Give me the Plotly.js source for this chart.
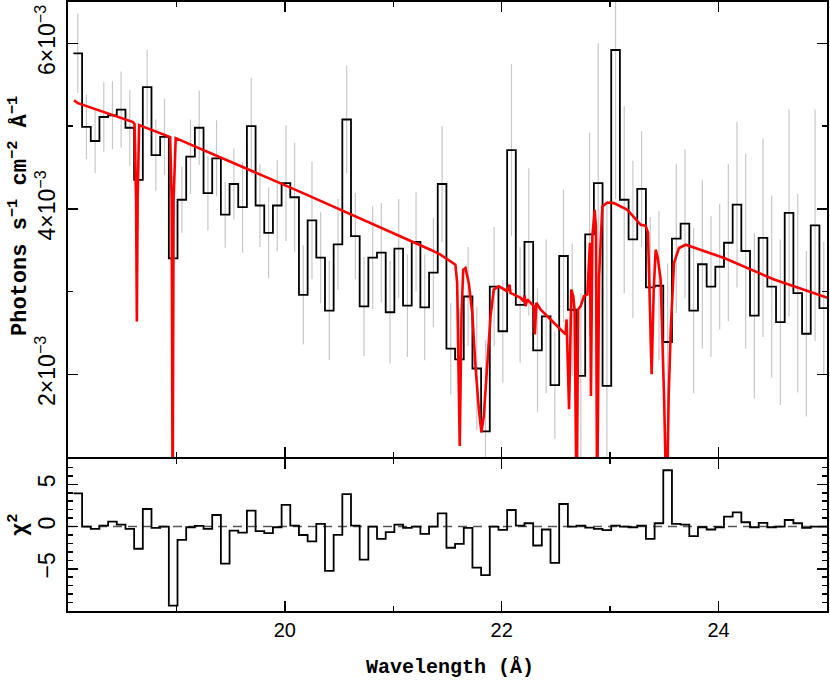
<!DOCTYPE html>
<html>
<head>
<meta charset="utf-8">
<script src="https://cdn.plot.ly/plotly-3.0.1.min.js"></script>
<style>
  body { margin: 0; background: #fff; }
  #chart { width: 830px; height: 685px; }
</style>
</head>
<body>
<div id="chart"></div>
<script>
// binned spectrum, 0.08 A bins starting at 18.05 A
var BIN_START = 18.05;
var BIN_WIDTH = 0.08;
var FLUX_UNIT = 1e-3;

// photons s-1 cm-2 A-1, in units of 1e-3
var flux = [5.88,4.99,4.82,5.11,5.13,5.20,4.98,4.35,5.47,4.65,
            4.87,3.40,4.11,4.63,4.98,4.19,4.61,3.93,4.30,4.02,
            5.00,4.04,3.71,4.04,4.31,4.14,2.96,3.86,3.41,2.77,
            3.57,5.08,3.67,2.82,3.41,3.47,2.75,3.52,2.83,3.60,
            2.81,3.23,4.30,2.31,2.18,2.94,2.07,1.31,3.06,2.52,
            4.71,2.84,3.60,2.29,2.70,1.87,3.43,2.78,1.98,3.69,
            4.31,1.86,5.92,4.11,3.63,4.24,3.05,3.07,2.39,3.64,
            3.82,2.77,3.33,3.06,3.30,3.59,4.05,3.49,2.71,3.65,
            3.06,2.63,3.95,2.98,2.49,3.80,2.80];

var fluxErr = [0.48,0.39,0.39,0.42,0.41,0.46,0.46,0.60,0.45,0.43,
               0.46,0.59,0.40,0.45,0.45,0.45,0.46,0.40,0.43,0.55,
               0.58,0.50,0.55,0.55,0.70,0.66,0.60,0.71,0.55,0.60,
               0.55,0.65,0.52,0.60,0.62,0.60,0.62,0.60,0.62,0.60,
               0.64,0.66,0.70,0.55,0.62,0.60,0.75,1.10,0.72,0.62,
               1.04,0.70,0.89,0.75,0.93,0.65,0.80,0.80,1.00,1.23,
               1.69,2.20,1.80,1.13,0.95,0.70,0.85,0.90,0.95,0.90,
               0.90,1.00,1.02,0.85,0.76,0.95,1.00,1.18,1.00,1.20,
               1.10,1.00,1.25,1.20,1.00,1.40,0.80];

var chi = [3.92,0,-0.27,0.12,0.59,0.24,-0.27,-2.63,2.08,-0.16,
           0,-9.37,-1.57,-0.08,0.08,-0.27,1.37,-4.39,-0.47,-0.71,
           1.88,-0.55,-0.78,-0.08,2.57,0.12,-1.0,-1.76,0.31,-5.25,
           -0.98,3.84,0.12,-3.92,0,-1.45,-0.67,0.24,-0.16,0,
           -0.86,0,1.57,-2.51,-2.04,-0.16,-4.86,-5.76,0,-0.39,
           1.96,0.12,0.39,-2.24,-0.35,-4.31,2.67,0,0.12,-0.12,
           -0.27,-0.43,0.12,0,-0.08,0.12,-1.45,0.39,6.67,0.31,
           0.24,-1.14,-0.08,-0.35,-0.08,1.18,1.69,0.51,-0.08,0.43,
           -0.08,0,0.78,0.39,-0.16,0,0];

// model curve (continuum with absorption lines), units of 1e-3
var modelWave = [18.055,18.092,18.600,18.614,18.628,18.635,18.642,18.656,18.942,18.956,
                 18.965,18.974,18.993,20.142,21.343,21.435,21.573,21.589,21.613,21.629,
                 21.645,21.666,21.696,21.728,21.758,21.789,21.813,21.835,21.866,21.897,
                 21.927,21.973,22.051,22.072,22.081,22.174,22.199,22.211,22.220,22.236,
                 22.296,22.306,22.319,22.358,22.481,22.589,22.598,22.608,22.621,22.642,
                 22.660,22.672,22.691,22.705,22.728,22.758,22.790,22.806,22.814,22.823,
                 22.836,22.857,22.869,22.880,22.898,22.928,22.974,23.035,23.159,23.282,
                 23.328,23.349,23.365,23.383,23.402,23.420,23.439,23.466,23.497,23.522,
                 23.540,23.559,23.589,23.635,23.697,24.051,24.512,25.008];
var modelFlux = [5.313,5.277,5.048,5.024,4.108,2.639,4.108,5.012,4.867,4.108,
                 0.3,4.108,4.855,4.205,3.506,3.446,3.325,3.108,1.133,2.699,
                 3.265,3.286,3.105,2.747,2.100,1.578,1.298,1.498,2.100,2.702,
                 3.024,3.064,3.004,3.084,2.984,2.924,2.883,2.952,2.823,2.904,
                 2.823,2.482,2.864,2.783,2.623,2.482,2.663,2.060,1.578,3.024,
                 2.943,2.783,0.3,2.783,2.823,2.943,2.964,3.386,3.590,1.739,
                 3.666,3.988,3.787,0.3,3.184,4.028,4.076,4.069,3.988,3.807,
                 3.795,3.711,2.904,2.000,3.024,3.506,3.410,3.145,1.739,0.3,
                 1.739,2.542,3.346,3.527,3.566,3.406,3.145,2.924];

var xTickVals = [20, 22, 24];
var yTickVals = [2e-3, 4e-3, 6e-3];
var yTickText = ['2×10<sup>−3</sup>', '4×10<sup>−3</sup>', '6×10<sup>−3</sup>'];

var edges = [], centers = [];
for (var k = 0; k <= flux.length; k++) {
    edges.push(BIN_START + k * BIN_WIDTH);
    if (k < flux.length) centers.push(BIN_START + (k + 0.5) * BIN_WIDTH);
}
var stepFlux = flux.map(function(v) { return v * FLUX_UNIT; });
stepFlux.push(stepFlux[stepFlux.length - 1]);
var stepChi = chi.slice();
stepChi.push(chi[chi.length - 1]);

var traces = [
    {
        x: centers,
        y: flux.map(function(v) { return v * FLUX_UNIT; }),
        mode: 'markers',
        marker: {size: 1, color: 'rgba(0,0,0,0)'},
        error_y: {type: 'data', array: fluxErr.map(function(v) { return v * FLUX_UNIT; }),
                  color: '#c8c8c8', thickness: 1.2, width: 0},
        xaxis: 'x', yaxis: 'y', hoverinfo: 'skip'
    },
    {
        x: edges, y: stepFlux, mode: 'lines',
        line: {shape: 'hv', color: 'black', width: 1.8},
        xaxis: 'x', yaxis: 'y'
    },
    {
        x: modelWave,
        y: modelFlux.map(function(v) { return v * FLUX_UNIT; }),
        mode: 'lines',
        line: {color: '#ff0000', width: 2.6},
        xaxis: 'x', yaxis: 'y'
    },
    {
        x: [18, 25], y: [0, 0], mode: 'lines',
        line: {color: '#555555', width: 1.4, dash: '9px,6px'},
        xaxis: 'x2', yaxis: 'y2'
    },
    {
        x: edges, y: stepChi, mode: 'lines',
        line: {shape: 'hv', color: 'black', width: 1.8},
        xaxis: 'x2', yaxis: 'y2'
    }
];

var tickFont = {family: 'Liberation Sans, Arial, sans-serif', size: 20, color: 'black'};
var yTickFont = {family: 'Liberation Sans, Arial, sans-serif', size: 23, color: 'black'};
var labelFont = {family: 'Liberation Mono, Courier New, monospace', size: 20, color: 'black', weight: 'bold'};
var yLabelFont = {family: 'Liberation Mono, Courier New, monospace', size: 22, color: 'black', weight: 'bold'};

function xAxis(extra) {
    var ax = {
        range: [18, 25], tickmode: 'array', tickvals: xTickVals,
        ticks: 'inside', ticklen: 10, tickwidth: 1.5, tickcolor: 'black',
        minor: {tickmode: 'linear', tick0: 18, dtick: 1, ticks: 'inside', ticklen: 5, tickwidth: 1.5, tickcolor: 'black'},
        showline: true, linecolor: 'black', linewidth: 1.6, mirror: 'allticks',
        showgrid: false, zeroline: false, tickfont: tickFont
    };
    for (var key in extra) ax[key] = extra[key];
    return ax;
}

var split = 0.2512;
var gap = 1 / 609;

var layout = {
    width: 830, height: 685,
    margin: {l: 68, r: 3, t: 2, b: 74},
    paper_bgcolor: 'white', plot_bgcolor: 'white',
    showlegend: false,
    xaxis: xAxis({anchor: 'y', showticklabels: false}),
    xaxis2: xAxis({anchor: 'y2', matches: 'x', showticklabels: true}),
    yaxis: {
        domain: [split + gap, 1], range: [1e-3, 6.5e-3],
        tickmode: 'array', tickvals: yTickVals, ticktext: yTickText, tickangle: -90,
        ticks: 'inside', ticklen: 10, tickwidth: 1.5, tickcolor: 'black',
        minor: {tickmode: 'array', tickvals: [1e-3, 3e-3, 5e-3], ticks: 'inside', ticklen: 5, tickwidth: 1.5, tickcolor: 'black'},
        showline: true, linecolor: 'black', linewidth: 1.6, mirror: 'allticks',
        showgrid: false, zeroline: false, tickfont: yTickFont, ticklabelstandoff: 2
    },
    yaxis2: {
        domain: [0, split - gap], range: [-10, 8],
        tickmode: 'array', tickvals: [-5, 0, 5], ticktext: ['−5', '0', '5'], tickangle: -90,
        ticks: 'inside', ticklen: 10, tickwidth: 1.5, tickcolor: 'black',
        minor: {tickmode: 'linear', tick0: 0, dtick: 1, ticks: 'inside', ticklen: 5, tickwidth: 1.5, tickcolor: 'black'},
        showline: true, linecolor: 'black', linewidth: 1.6, mirror: 'allticks',
        showgrid: false, zeroline: false, tickfont: yTickFont, ticklabelstandoff: 2
    },
    annotations: [
        {xref: 'paper', yref: 'paper', x: -0.0659, y: 0.6486, xanchor: 'center', yanchor: 'middle',
         text: 'Photons s<sup>−1</sup> cm<sup>−2</sup> Å<sup>−1</sup>',
         textangle: -90, showarrow: false, font: yLabelFont},
        {xref: 'paper', yref: 'paper', x: -0.0659, y: 0.1412, xanchor: 'center', yanchor: 'middle',
         text: 'χ<sup>2</sup>', textangle: -90, showarrow: false, font: yLabelFont},
        {xref: 'paper', yref: 'paper', x: 0.5033, y: -0.092, xanchor: 'center', yanchor: 'middle',
         text: 'Wavelength (Å)', showarrow: false, font: labelFont}
    ]
};

Plotly.newPlot('chart', traces, layout, {displayModeBar: false, staticPlot: true});
</script>
</body>
</html>
